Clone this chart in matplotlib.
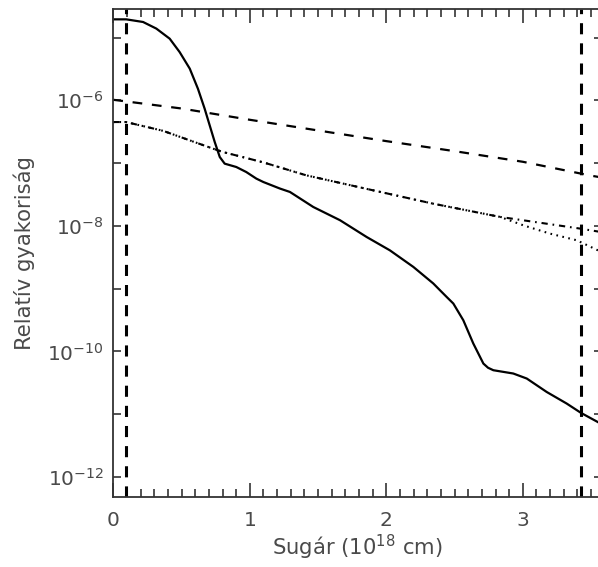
import matplotlib
matplotlib.use("Agg")
import matplotlib.pyplot as plt
from matplotlib.ticker import FixedLocator, MultipleLocator, FixedFormatter, NullFormatter

# ---- data ----
solid_x = [0.0, 0.095, 0.218, 0.315, 0.413, 0.486, 0.560, 0.620, 0.669, 0.706,
           0.743, 0.780, 0.816, 0.901, 0.974, 1.048, 1.099, 1.221, 1.294, 1.465,
           1.661, 1.856, 2.026, 2.198, 2.344, 2.393, 2.442, 2.491, 2.564, 2.637,
           2.711, 2.745, 2.784, 2.930, 3.029, 3.175, 3.321, 3.426, 3.58]
solid_y = [1.95e-5, 1.95e-5, 1.77e-5, 1.39e-5, 9.6e-6, 5.87e-6, 3.20e-6, 1.53e-6, 7.38e-7, 4.00e-7,
           2.17e-7, 1.25e-7, 9.8e-8, 8.67e-8, 7.21e-8, 5.66e-8, 5.00e-8, 3.93e-8, 3.47e-8, 2.00e-8,
           1.23e-8, 6.65e-9, 4.08e-9, 2.22e-9, 1.21e-9, 9.44e-10, 7.38e-10, 5.79e-10, 3.14e-10, 1.34e-10,
           6.41e-11, 5.5e-11, 5.02e-11, 4.45e-11, 3.70e-11, 2.26e-11, 1.48e-11, 1.05e-11, 6.9e-12]

dashed_x = [0.0, 0.5, 1.0, 1.5, 2.0, 2.5, 3.0, 3.5, 3.58]
dashed_y = [1.02e-6, 7.41e-7, 4.90e-7, 3.31e-7, 2.24e-7, 1.55e-7, 1.05e-7, 6.31e-8, 5.89e-8]

dashdot_x = [0.0, 0.093, 0.364, 0.730, 0.804, 1.097, 1.412, 1.902, 2.342, 2.6, 2.833, 3.419, 3.58]
dashdot_y = [4.51e-7, 4.51e-7, 3.27e-7, 1.70e-7, 1.50e-7, 1.03e-7, 6.40e-8, 3.69e-8, 2.26e-8, 1.75e-8,
             1.39e-8, 9.06e-9, 7.94e-9]

dotted_x = [0.0, 0.093, 0.364, 0.730, 0.804, 1.097, 1.412, 1.902, 2.342, 2.6, 2.833, 3.004, 3.199, 3.395, 3.58]
dotted_y = [4.51e-7, 4.51e-7, 3.27e-7, 1.70e-7, 1.50e-7, 1.03e-7, 6.40e-8, 3.69e-8, 2.26e-8, 1.75e-8,
            1.39e-8, 1.02e-8, 7.53e-9, 5.90e-9, 3.80e-9]

vlines_x = [0.095, 3.426]

x_ticks = [0, 1, 2, 3]
x_ticklabels = ["0", "1", "2", "3"]
x_minor_step = 0.1
y_ticks = [1e-12, 1e-11, 1e-10, 1e-9, 1e-8, 1e-7, 1e-6, 1e-5]
y_ticklabels = [r"$10^{-12}$", "", r"$10^{-10}$", "", r"$10^{-8}$", "", r"$10^{-6}$", ""]

xlabel = r"Sugár (10$^{\mathregular{18}}$ cm)"
ylabel = "Relatív gyakoriság"

# ---- style ----
plt.rcParams["font.family"] = ["DejaVu Sans"]
plt.rcParams["mathtext.fontset"] = "dejavusans"
plt.rcParams["mathtext.default"] = "regular"
plt.rcParams["lines.scale_dashes"] = False

text_col = "#4a4a4a"
frame_col = "#333333"
fs_tick = 14.5
fs_label = 15.2

fig = plt.figure(figsize=(5.98, 5.67), dpi=100)
W, H = 598, 567
left_px, right_px, top_px, bot_px = 113.3, 602, 9, 497
ax = fig.add_axes([left_px / W, (H - bot_px) / H, (right_px - left_px) / W, (bot_px - top_px) / H])

ax.plot(solid_x, solid_y, color="black", lw=1.6, solid_joinstyle="round")
ax.plot(dashed_x, dashed_y, color="black", lw=1.6, linestyle=(0, (7, 7)))
ax.plot(dotted_x, dotted_y, color="black", lw=1.5, linestyle=(0, (1.2, 3.2)))
ax.plot(dashdot_x, dashdot_y, color="black", lw=1.5, linestyle=(0, (4.5, 3.5, 1.2, 3.5)))
for xv in vlines_x:
    ax.axvline(xv, color="black", lw=2.2, linestyle=(0, (8, 6.5)))

ax.set_yscale("log")
ax.set_xlim(0, 3.58)
ax.set_ylim(4.8e-13, 2.85e-5)

ax.xaxis.set_major_locator(FixedLocator(x_ticks))
ax.xaxis.set_major_formatter(FixedFormatter(x_ticklabels))
ax.xaxis.set_minor_locator(MultipleLocator(x_minor_step))
ax.xaxis.set_minor_formatter(NullFormatter())
ax.yaxis.set_major_locator(FixedLocator(y_ticks))
ax.yaxis.set_major_formatter(FixedFormatter(y_ticklabels))
ax.yaxis.set_minor_locator(FixedLocator([]))
ax.yaxis.set_minor_formatter(NullFormatter())

ax.tick_params(axis="x", which="major", direction="in", top=True, bottom=True,
               length=10, width=1.1, pad=10, color="#222222",
               labelcolor=text_col, labelsize=fs_tick)
ax.tick_params(axis="x", which="minor", direction="in", top=True, bottom=True,
               length=5.5, width=1.1, color="#222222")
ax.tick_params(axis="y", which="major", direction="in", left=True, right=True,
               length=6, width=1.1, pad=7, color="#222222",
               labelcolor=text_col, labelsize=fs_tick)

for s in ax.spines.values():
    s.set_color(frame_col)
    s.set_linewidth(1.3)

ax.set_xlabel(xlabel, fontsize=fs_label, color=text_col, labelpad=2)
ax.set_ylabel(ylabel, fontsize=fs_label, color=text_col, labelpad=9)

fig.savefig("out.png", dpi=100)
